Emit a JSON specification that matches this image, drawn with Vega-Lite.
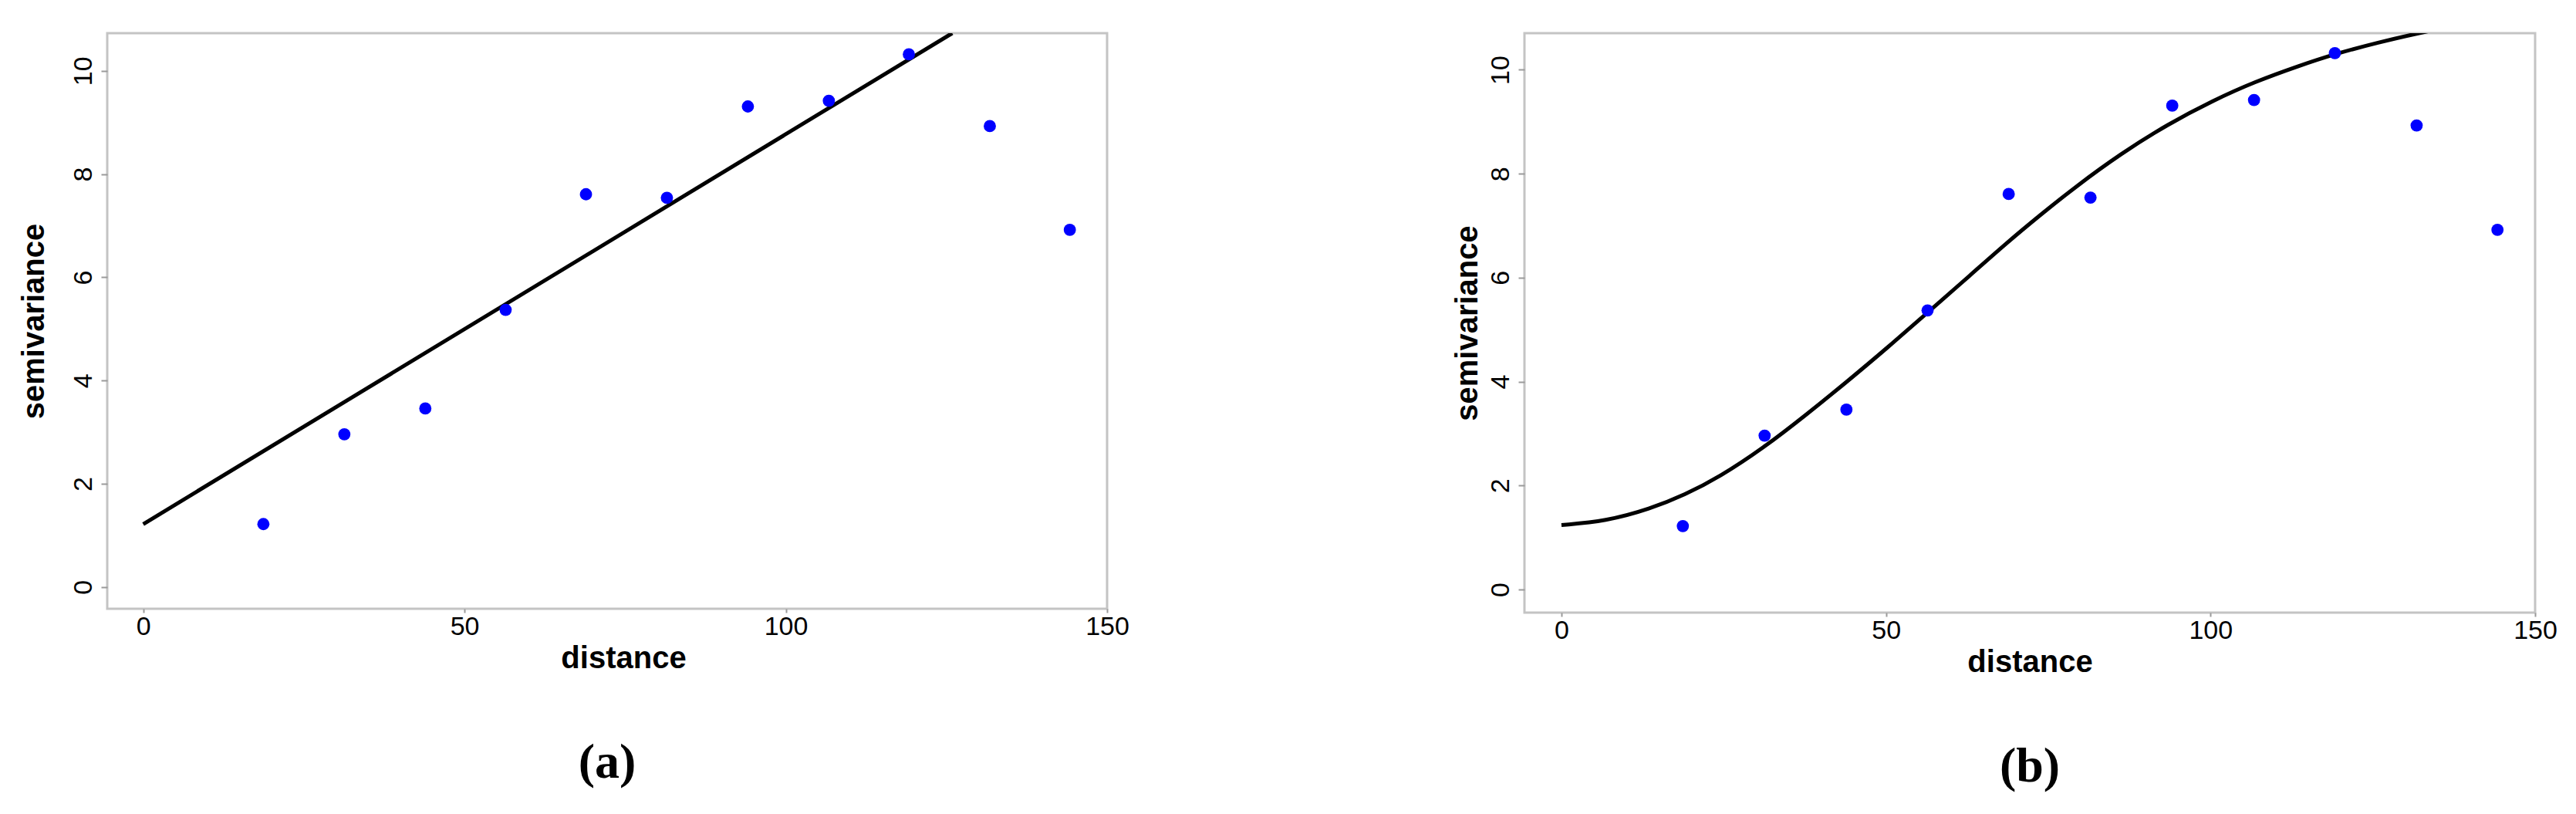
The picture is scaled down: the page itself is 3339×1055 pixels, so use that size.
{
  "$schema": "https://vega.github.io/schema/vega-lite/v6.json",
  "background": "white",
  "padding": {"left": 22, "top": 41, "right": 40, "bottom": 16},
  "bounds": "flush",
  "spacing": 541,
  "config": {
    "view": {"stroke": "#c4c4c4", "strokeWidth": 3},
    "axis": {
      "domain": false, "grid": false, "tickColor": "#9a9a9a", "tickWidth": 2,
      "labelFont": "Liberation Sans", "labelColor": "#000000", "labelFontSize": 34,
      "titleFont": "Liberation Sans", "titleFontWeight": "bold", "titleFontSize": 40, "titleColor": "#000000",
      "format": "d"
    },
    "axisX": {"tickSize": 5, "labelPadding": 1, "titlePadding": 4, "labelFlush": false},
    "axisY": {"tickSize": 8, "labelAngle": -90, "labelAlign": "center", "labelBaseline": "bottom", "labelPadding": 6},
    "title": {"orient": "bottom", "frame": "group", "font": "Liberation Serif", "fontSize": 64, "fontWeight": "bold", "color": "#000000", "offset": 84, "anchor": "middle"}
  },
  "datasets": {
    "pts": [
      {"distance": 18.7, "semivariance": 1.22},
      {"distance": 31.3, "semivariance": 2.96},
      {"distance": 43.9, "semivariance": 3.46},
      {"distance": 56.4, "semivariance": 5.37},
      {"distance": 68.9, "semivariance": 7.61},
      {"distance": 81.5, "semivariance": 7.54},
      {"distance": 94.1, "semivariance": 9.31},
      {"distance": 106.7, "semivariance": 9.42},
      {"distance": 119.15, "semivariance": 10.32},
      {"distance": 131.75, "semivariance": 8.93},
      {"distance": 144.2, "semivariance": 6.92}
    ],
    "lin": [
      {"distance": 0, "semivariance": 1.22},
      {"distance": 125.9, "semivariance": 10.73}
    ],
    "gau": [
      {"distance": 0, "semivariance": 1.24},
      {"distance": 6.8, "semivariance": 1.31},
      {"distance": 13.7, "semivariance": 1.55},
      {"distance": 19.0, "semivariance": 1.82},
      {"distance": 24.3, "semivariance": 2.16},
      {"distance": 31.2, "semivariance": 2.73},
      {"distance": 37.6, "semivariance": 3.35},
      {"distance": 44.0, "semivariance": 4.00},
      {"distance": 50.3, "semivariance": 4.66},
      {"distance": 56.4, "semivariance": 5.33},
      {"distance": 63.1, "semivariance": 6.06},
      {"distance": 68.5, "semivariance": 6.66},
      {"distance": 73.9, "semivariance": 7.22},
      {"distance": 79.2, "semivariance": 7.75},
      {"distance": 86.1, "semivariance": 8.38},
      {"distance": 93.5, "semivariance": 8.96},
      {"distance": 100.4, "semivariance": 9.41},
      {"distance": 106.8, "semivariance": 9.77},
      {"distance": 113.7, "semivariance": 10.08},
      {"distance": 119.0, "semivariance": 10.30},
      {"distance": 125.9, "semivariance": 10.53},
      {"distance": 132.2, "semivariance": 10.71},
      {"distance": 138.0, "semivariance": 10.86}
    ]
  },
  "hconcat": [
    {
      "width": 1296, "height": 746,
      "title": "(a)",
      "layer": [
        {
          "data": {"name": "lin"},
          "mark": {"type": "line", "color": "#000000", "strokeWidth": 5, "clip": true},
          "encoding": {
            "x": {"field": "distance", "type": "quantitative",
                  "scale": {"domain": [-5.6, 150], "nice": false, "zero": false},
                  "axis": {"values": [0, 50, 100, 150], "title": "distance", "titleX": 669}},
            "y": {"field": "semivariance", "type": "quantitative",
                  "scale": {"domain": [-0.42, 10.73], "nice": false, "zero": false},
                  "axis": {"values": [0, 2, 4, 6, 8, 10], "title": "semivariance", "titlePadding": 27}}
          }
        },
        {
          "data": {"name": "pts"},
          "mark": {"type": "point", "filled": true, "color": "#0000ff", "size": 250, "opacity": 1},
          "encoding": {
            "x": {"field": "distance", "type": "quantitative"},
            "y": {"field": "semivariance", "type": "quantitative"}
          }
        }
      ]
    },
    {
      "width": 1310, "height": 751,
      "title": "(b)",
      "layer": [
        {
          "data": {"name": "gau"},
          "mark": {"type": "line", "color": "#000000", "strokeWidth": 5, "clip": true, "interpolate": "basis"},
          "encoding": {
            "x": {"field": "distance", "type": "quantitative",
                  "scale": {"domain": [-5.7, 150], "nice": false, "zero": false},
                  "axis": {"values": [0, 50, 100, 150], "title": "distance"}},
            "y": {"field": "semivariance", "type": "quantitative",
                  "scale": {"domain": [-0.446, 10.705], "nice": false, "zero": false},
                  "axis": {"values": [0, 2, 4, 6, 8, 10], "title": "semivariance", "titlePadding": 6}}
          }
        },
        {
          "data": {"name": "pts"},
          "mark": {"type": "point", "filled": true, "color": "#0000ff", "size": 250, "opacity": 1},
          "encoding": {
            "x": {"field": "distance", "type": "quantitative"},
            "y": {"field": "semivariance", "type": "quantitative"}
          }
        }
      ]
    }
  ]
}
